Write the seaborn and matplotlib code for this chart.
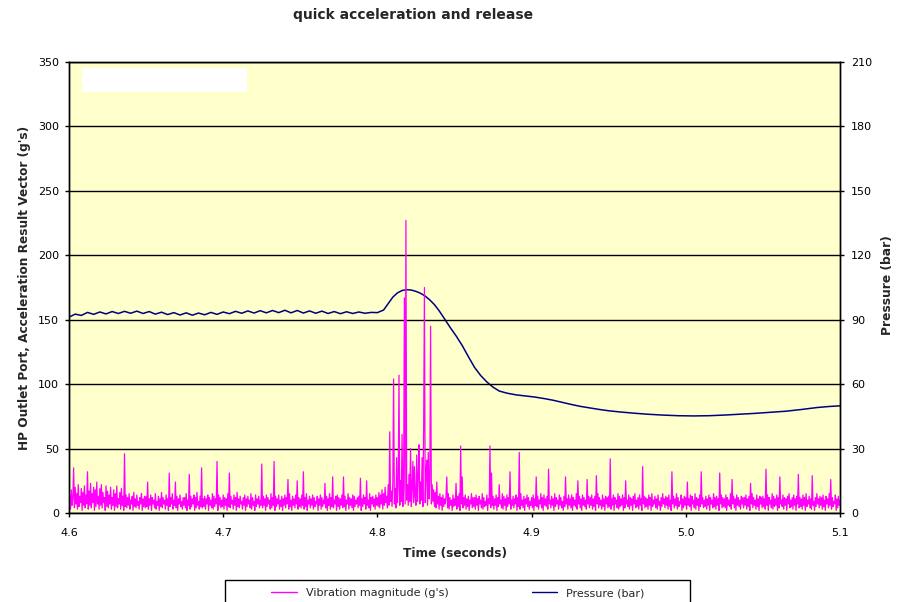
import numpy as np
import pandas as pd
import matplotlib
matplotlib.use("Agg")
import matplotlib.pyplot as plt
import seaborn as sns
from matplotlib.patches import Rectangle
from matplotlib.lines import Line2D

# ---------------- data ----------------
title = "quick acceleration and release"
x_ticks = [4.6, 4.7, 4.8, 4.9, 5.0, 5.1]
x_tick_labels = ["4.6", "4.7", "4.8", "4.9", "5.0", "5.1"]
left_ticks = [0, 50, 100, 150, 200, 250, 300, 350]
right_ticks = [0, 30, 60, 90, 120, 150, 180, 210]

# vibration magnitude (g's), one sample every 0.5 ms starting at 4.6 s
vib_t0 = 4.6
vib_dt = 0.0005
vibration = [
    5, 14, 3, 18, 6, 12, 35, 4, 20, 7, 15, 3, 22, 5, 13, 8, 19, 2, 16, 6, 21, 4, 14, 7, 32,
    3, 17, 6, 23, 4, 15, 8, 20, 2, 18, 5, 24, 7, 13, 3, 19, 6, 22, 4, 16, 8, 12, 2, 21, 5,
    17, 4, 14, 7, 20, 3, 12, 6, 18, 2, 15, 5, 21, 4, 11, 7, 16, 3, 19, 6, 13, 2, 46, 5, 14,
    4, 12, 6, 15, 3, 10, 7, 13, 2, 16, 5, 11, 4, 14, 6, 9, 3, 12, 7, 15, 2, 11, 5, 13, 4,
    13, 5, 24, 3, 11, 6, 14, 2, 12, 7, 10, 4, 15, 3, 9, 6, 13, 2, 11, 5, 16, 4, 12, 7, 10,
    3, 14, 6, 11, 2, 31, 5, 12, 7, 15, 3, 10, 6, 24, 4, 13, 2, 11, 7, 14, 5, 9, 3, 12, 6,
    12, 4, 15, 2, 10, 6, 30, 3, 13, 5, 11, 7, 14, 2, 12, 4, 16, 6, 9, 3, 13, 5, 35, 4, 11,
    5, 13, 3, 11, 7, 14, 2, 12, 6, 10, 4, 15, 3, 13, 5, 11, 7, 40, 2, 14, 6, 12, 4, 10, 5,
    14, 3, 12, 6, 11, 2, 15, 5, 31, 4, 13, 7, 10, 3, 14, 6, 12, 2, 16, 5, 11, 4, 13, 7, 9,
    3, 12, 6, 14, 2, 11, 5, 13, 7, 10, 4, 15, 3, 12, 6, 9, 2, 14, 5, 11, 7, 13, 4, 10, 6,
    38, 4, 13, 6, 11, 2, 14, 5, 12, 7, 10, 3, 15, 4, 12, 6, 40, 2, 13, 5, 11, 7, 14, 3, 10,
    5, 13, 2, 11, 6, 14, 4, 12, 7, 26, 3, 15, 5, 10, 2, 13, 6, 11, 4, 14, 7, 25, 3, 12, 5,
    11, 4, 14, 6, 32, 3, 12, 5, 15, 2, 10, 7, 13, 4, 11, 6, 14, 3, 12, 5, 9, 7, 13, 2, 11,
    6, 14, 3, 12, 5, 10, 7, 23, 4, 13, 2, 11, 6, 15, 3, 12, 5, 28, 4, 10, 7, 13, 2, 14, 5,
    12, 3, 11, 6, 14, 4, 28, 5, 13, 2, 10, 7, 15, 3, 12, 6, 11, 4, 14, 2, 13, 5, 10, 7, 12,
    4, 13, 6, 27, 2, 11, 5, 14, 7, 12, 3, 25, 6, 10, 4, 15, 2, 12, 7, 13, 5, 11, 3, 14, 6,
    12, 5, 16, 4, 14, 7, 18, 3, 15, 6, 20, 8, 13, 4, 22, 6, 63, 9, 17, 5, 24, 104, 7, 19, 4,
    43, 8, 21, 107, 6, 25, 9, 61, 5, 18, 167, 7, 227, 10, 22, 6, 30, 9, 50, 5, 19, 40, 8, 36, 12,
    6, 45, 9, 28, 53, 7, 24, 10, 43, 5, 67, 175, 8, 31, 41, 6, 47, 11, 26, 145, 7, 22, 9, 18, 5,
    16, 4, 24, 7, 13, 3, 15, 6, 12, 2, 14, 5, 11, 7, 13, 28, 4, 15, 3, 12, 6, 10, 2, 14, 5,
    11, 6, 23, 3, 13, 5, 15, 2, 52, 7, 28, 4, 12, 6, 14, 3, 11, 5, 13, 2, 10, 7, 15, 4, 12,
    5, 12, 3, 14, 6, 11, 2, 13, 7, 10, 4, 15, 3, 12, 5, 9, 6, 14, 2, 11, 7, 52, 4, 31, 6,
    13, 3, 11, 6, 14, 2, 12, 5, 22, 7, 10, 4, 15, 3, 13, 6, 11, 2, 14, 5, 12, 7, 32, 3, 10,
    6, 13, 4, 11, 7, 14, 2, 12, 5, 47, 3, 15, 6, 10, 4, 13, 2, 11, 7, 14, 5, 12, 3, 9, 6,
    12, 4, 14, 2, 11, 6, 28, 5, 13, 3, 10, 7, 15, 4, 12, 2, 14, 6, 11, 5, 13, 3, 34, 7, 10,
    4, 13, 6, 11, 2, 15, 5, 12, 7, 10, 3, 14, 6, 12, 4, 9, 2, 13, 5, 28, 7, 11, 3, 14, 6,
    11, 4, 14, 2, 12, 6, 10, 5, 15, 3, 25, 7, 13, 4, 11, 2, 14, 6, 12, 5, 10, 3, 26, 7, 13,
    4, 12, 6, 14, 3, 11, 5, 13, 2, 29, 7, 15, 4, 12, 6, 10, 3, 14, 5, 11, 2, 13, 7, 12, 4,
    13, 5, 42, 3, 11, 6, 14, 2, 12, 7, 10, 4, 15, 3, 13, 5, 11, 6, 14, 2, 12, 4, 25, 7, 10,
    5, 14, 3, 12, 6, 11, 2, 13, 7, 15, 4, 10, 5, 12, 3, 14, 6, 11, 2, 36, 7, 13, 4, 12, 5,
    11, 3, 14, 6, 12, 2, 15, 5, 10, 7, 13, 4, 11, 3, 14, 6, 9, 2, 12, 5, 15, 7, 11, 4, 13,
    6, 12, 3, 14, 5, 10, 2, 32, 7, 13, 4, 11, 6, 15, 3, 12, 5, 9, 7, 14, 2, 11, 4, 13, 6,
    12, 3, 24, 6, 11, 5, 14, 2, 13, 7, 10, 4, 15, 3, 12, 6, 11, 2, 14, 5, 32, 7, 12, 4, 10,
    5, 13, 3, 11, 6, 14, 2, 12, 7, 10, 4, 15, 5, 12, 3, 13, 6, 11, 2, 31, 7, 14, 4, 12, 5,
    11, 4, 14, 2, 12, 6, 10, 5, 15, 3, 26, 7, 13, 4, 11, 2, 14, 6, 12, 5, 10, 3, 13, 7, 12,
    4, 12, 6, 14, 3, 11, 5, 13, 2, 23, 7, 15, 4, 12, 6, 10, 3, 14, 5, 11, 2, 13, 7, 12, 4,
    13, 5, 11, 3, 34, 6, 14, 2, 12, 7, 10, 4, 15, 3, 13, 5, 11, 6, 14, 2, 12, 4, 28, 7, 10,
    5, 14, 3, 12, 6, 11, 2, 13, 7, 15, 4, 10, 5, 12, 3, 14, 6, 11, 2, 13, 7, 30, 4, 12, 5,
    11, 3, 14, 6, 12, 2, 15, 5, 10, 7, 13, 4, 11, 3, 29, 6, 9, 2, 12, 5, 15, 7, 11, 4, 13,
    6, 12, 3, 14, 5, 10, 2, 13, 7, 11, 4, 15, 6, 26, 3, 12, 5, 9, 7, 14, 2, 11, 4, 13, 6,
    10,
]
vib_time = np.round(vib_t0 + vib_dt * np.arange(len(vibration)), 5)

pressure_time = [
    4.600, 4.604, 4.608, 4.612, 4.616, 4.620, 4.624, 4.628, 4.632, 4.636,
    4.640, 4.644, 4.648, 4.652, 4.656, 4.660, 4.664, 4.668, 4.672, 4.676,
    4.680, 4.684, 4.688, 4.692, 4.696, 4.700, 4.704, 4.708, 4.712, 4.716,
    4.720, 4.724, 4.728, 4.732, 4.736, 4.740, 4.744, 4.748, 4.752, 4.756,
    4.760, 4.764, 4.768, 4.772, 4.776, 4.780, 4.784, 4.788, 4.792, 4.796, 4.800,
    4.804, 4.807, 4.810, 4.813, 4.816, 4.819, 4.822, 4.825, 4.828, 4.831,
    4.834, 4.837, 4.840, 4.843, 4.847, 4.851, 4.855, 4.859, 4.863, 4.867,
    4.871, 4.875, 4.879, 4.884, 4.890, 4.896, 4.902, 4.908, 4.914, 4.920,
    4.926, 4.932, 4.938, 4.944, 4.950, 4.958, 4.966, 4.975, 4.985, 4.995,
    5.005, 5.015, 5.025, 5.035, 5.045, 5.055, 5.065, 5.075, 5.085, 5.093, 5.100,
]
pressure = [
    91.2, 92.6, 92.0, 93.4, 92.5, 93.6, 92.7, 93.8, 92.9, 93.9,
    93.0, 94.0, 92.9, 93.8, 92.6, 93.5, 92.4, 93.3, 92.2, 93.2,
    92.1, 93.1, 92.3, 93.4, 92.5, 93.6, 92.8, 93.9, 93.0, 94.1,
    93.1, 94.2, 93.2, 94.3, 93.3, 94.4, 93.2, 94.3, 93.1, 94.1,
    93.0, 94.0, 92.9, 93.8, 92.8, 93.7, 92.9, 93.6, 93.0, 93.4, 93.3,
    94.5, 97.5, 100.5, 102.5, 103.6, 104.0, 103.8, 103.2, 102.3, 101.0,
    99.2, 97.0, 94.2, 91.0, 86.6, 82.5, 78.0, 72.8, 67.8, 64.0,
    61.0, 58.6, 56.8, 55.8, 55.0, 54.5, 54.0, 53.3, 52.5, 51.5,
    50.5, 49.6, 48.9, 48.2, 47.6, 47.0, 46.5, 46.0, 45.6, 45.3,
    45.2, 45.3, 45.6, 46.0, 46.4, 46.9, 47.4, 48.2, 49.1, 49.6, 49.9,
]

# ---------------- style ----------------
sns.set_style("white")
plt.rcParams["font.family"] = ["DejaVu Sans"]

W, H = 907, 602
fig = plt.figure(figsize=(W / 100, H / 100), dpi=100)
x0, x1, y_top, y_bot = 69, 840, 62, 513
ax = fig.add_axes([x0 / W, 1 - y_bot / H, (x1 - x0) / W, (y_bot - y_top) / H])
ax2 = ax.twinx()
ax2.patch.set_visible(True)
ax2.set_facecolor("#FFFFCC")
ax.set_zorder(ax2.get_zorder() + 1)
ax.patch.set_visible(False)

vib_color = "#FF00FF"
pres_color = "#000080"

sns.lineplot(x=pressure_time, y=pressure, ax=ax2, color=pres_color,
             lw=1.1, estimator=None, legend=False)
sns.lineplot(x=vib_time, y=vibration, ax=ax, color=vib_color,
             lw=0.9, estimator=None, legend=False)

ax.set_xlim(4.6, 5.1)
ax.set_ylim(0, 350)
ax2.set_ylim(0, 210)
ax.set_xticks(x_ticks)
ax.set_xticklabels(x_tick_labels)
ax.set_yticks(left_ticks)
ax2.set_yticks(right_ticks)
ax.set_xlabel("")
ax.set_ylabel("")
ax2.set_ylabel("")

ax.yaxis.grid(True, color="black", lw=1.0)
ax.xaxis.grid(False)
ax2.grid(False)
ax.set_axisbelow(True)

for a in (ax, ax2):
    for s in a.spines.values():
        s.set_color("black")
        s.set_linewidth(1.0)
ax.tick_params(axis="y", direction="out", length=3, width=1, colors="black",
               labelsize=8, pad=4, left=True)
ax.tick_params(axis="x", direction="out", length=3, width=1, colors="black",
               labelsize=8, pad=8, bottom=True)
ax2.tick_params(axis="y", direction="out", length=3, width=1, colors="black",
                labelsize=8, pad=5, right=True)

# white blank box in the upper-left of the plot area
ax.add_patch(Rectangle((13 / 771, 1 - 30 / 451), 165 / 771, 24 / 451,
                       transform=ax.transAxes, facecolor="white",
                       edgecolor="none", zorder=5))

# texts
fig.text(413 / W, 1 - 15 / H, title, ha="center", va="center",
         fontsize=10, fontweight="bold")
fig.text(25 / W, 1 - 288 / H, "HP Outlet Port, Acceleration Result Vector (g's)",
         rotation=90, ha="center", va="center", fontsize=8.7, fontweight="bold")
fig.text(888 / W, 1 - 285 / H, "Pressure (bar)", rotation=90,
         ha="center", va="center", fontsize=8.8, fontweight="bold")
fig.text(455 / W, 1 - 554 / H, "Time (seconds)", ha="center", va="center",
         fontsize=8.7, fontweight="bold")

# legend (frame drawn separately so it matches the reference box)
handles = [Line2D([], [], color=vib_color, lw=1.0),
           Line2D([], [], color=pres_color, lw=1.0)]
leg = fig.legend(handles, ["Vibration magnitude (g's)", "Pressure (bar)"],
                 loc="center", bbox_to_anchor=(458 / W, 1 - 593 / H),
                 ncol=2, frameon=False, fontsize=8, handlelength=2.3,
                 columnspacing=7.5, borderpad=0.0, borderaxespad=0)
fig.patches.append(Rectangle((225 / W, -0.02), 465 / W, 0.02 + 22 / H,
                             transform=fig.transFigure, facecolor="none",
                             edgecolor="black", lw=1.0, zorder=1))

fig.savefig("out.png", dpi=100)
